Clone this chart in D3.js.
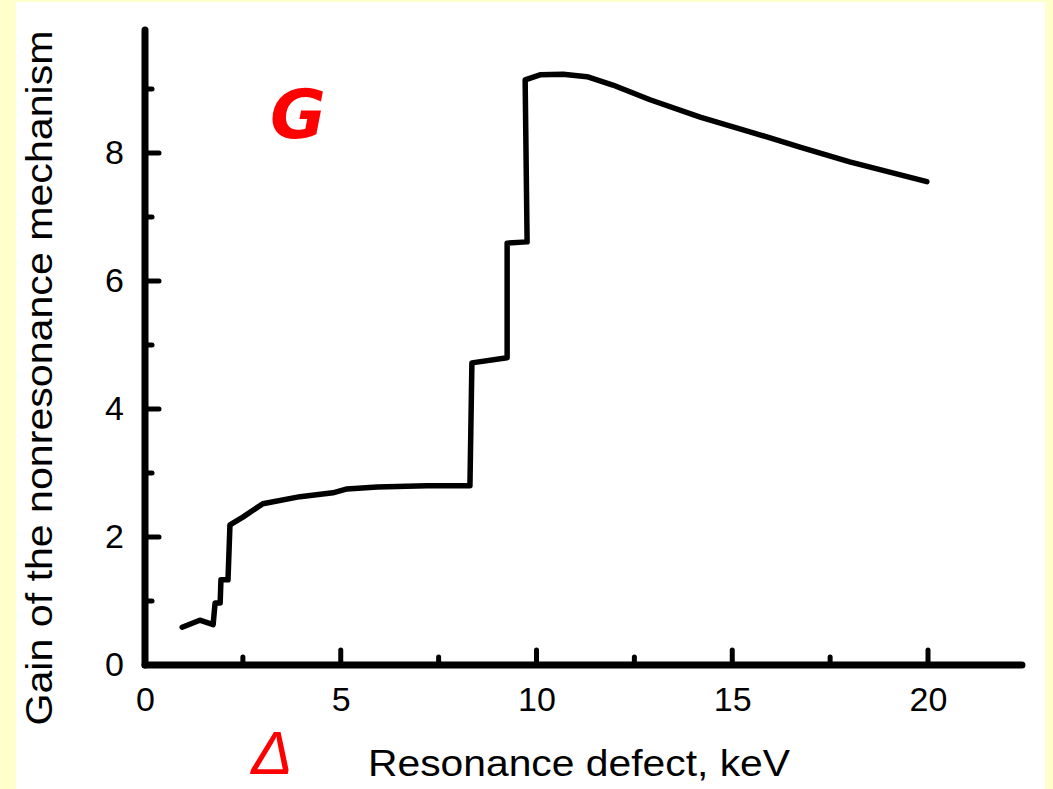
<!DOCTYPE html>
<html>
<head>
<meta charset="utf-8">
<script src="https://cdn.jsdelivr.net/npm/d3@7"></script>
<style>
  body { margin: 0; background: #ffffcc; }
  svg { display: block; }
</style>
</head>
<body>
<script>
// gain curve: defect (keV) vs gain
let defect = [0.95, 1.40, 1.74, 1.79, 1.92, 1.94, 2.12, 2.17, 2.50, 3.01, 3.96, 4.80, 5.16,
              5.93, 7.20, 8.30, 8.35, 9.25, 9.25, 9.76, 9.71, 10.09, 10.68, 11.29, 11.95,
              12.9, 14.18, 15.45, 16.73, 18.0, 19.97];
let gain = [0.59, 0.70, 0.63, 0.97, 0.97, 1.33, 1.33, 2.19, 2.31, 2.52, 2.63, 2.69, 2.75,
            2.78, 2.80, 2.80, 4.72, 4.80, 6.59, 6.61, 9.14, 9.22, 9.23, 9.19, 9.06,
            8.83, 8.56, 8.33, 8.09, 7.86, 7.55];
let xMajor = [0, 5, 10, 15, 20],
    xMinor = [2.5, 7.5, 12.5, 17.5];
let yMajor = [0, 2, 4, 6, 8],
    yMinor = [1, 3, 5, 7, 9];

let W = 1053, H = 789;
let margin = {top: 30, right: 30, bottom: 124, left: 145};
let font = "'Liberation Sans', Arial, sans-serif";

let svg = d3.select("body").append("svg")
    .attr("width", W)
    .attr("height", H);

// white panel on the yellow frame
svg.append("rect")
    .attr("x", 16).attr("y", 2)
    .attr("width", 1029).attr("height", H - 2)
    .attr("fill", "#fff");

let g = svg.append("g")
    .attr("transform", "translate(" + margin.left + "," + margin.top + ")");

let width = 928 - margin.left,   // 0..20 keV
    height = 665 - margin.top;   // 0..9.92

let x = d3.scaleLinear().domain([0, 20]).range([0, width]);
let y = d3.scaleLinear().domain([0, 9.92]).range([height, 0]);
let xEnd = x(22.4);

// axis lines
g.append("line")
    .attr("x1", 0).attr("x2", xEnd)
    .attr("y1", height).attr("y2", height)
    .attr("stroke", "#000").attr("stroke-width", 7).attr("stroke-linecap", "round");
g.append("line")
    .attr("x1", 0).attr("x2", 0)
    .attr("y1", 0).attr("y2", height)
    .attr("stroke", "#000").attr("stroke-width", 7).attr("stroke-linecap", "round");

// x tick labels
let xAxis = d3.axisBottom(x).tickValues(xMajor).tickSize(0).tickPadding(22).tickFormat(d3.format("d"));
let xg = g.append("g")
    .attr("transform", "translate(0," + height + ")")
    .call(xAxis);
xg.select(".domain").remove();
xg.selectAll("text")
    .style("font-family", font)
    .style("font-size", "34px")
    .attr("fill", "#000");

// x ticks pointing up
g.selectAll(".xmaj").data(xMajor.filter(d => d > 0)).enter().append("line")
    .attr("x1", d => x(d)).attr("x2", d => x(d))
    .attr("y1", height).attr("y2", height - 15)
    .attr("stroke", "#000").attr("stroke-width", 5).attr("stroke-linecap", "round");
g.selectAll(".xmin").data(xMinor).enter().append("line")
    .attr("x1", d => x(d)).attr("x2", d => x(d))
    .attr("y1", height).attr("y2", height - 8)
    .attr("stroke", "#000").attr("stroke-width", 5).attr("stroke-linecap", "round");

// y tick labels
let yAxis = d3.axisLeft(y).tickValues(yMajor).tickSize(0).tickPadding(21).tickFormat(d3.format("d"));
let yg = g.append("g")
    .call(yAxis);
yg.select(".domain").remove();
yg.selectAll("text")
    .style("font-family", font)
    .style("font-size", "34px")
    .attr("fill", "#000");

// y ticks pointing right
g.selectAll(".ymaj").data(yMajor.filter(d => d > 0)).enter().append("line")
    .attr("x1", 0).attr("x2", 14)
    .attr("y1", d => y(d)).attr("y2", d => y(d))
    .attr("stroke", "#000").attr("stroke-width", 5).attr("stroke-linecap", "round");
g.selectAll(".ymin").data(yMinor).enter().append("line")
    .attr("x1", 0).attr("x2", 7)
    .attr("y1", d => y(d)).attr("y2", d => y(d))
    .attr("stroke", "#000").attr("stroke-width", 5).attr("stroke-linecap", "round");

// the curve
let line = d3.line()
    .x(d => x(d[0]))
    .y(d => y(d[1]));
g.append("path")
    .datum(d3.zip(defect, gain))
    .attr("fill", "none")
    .attr("stroke", "#000")
    .attr("stroke-width", 5.5)
    .attr("stroke-linejoin", "round")
    .attr("stroke-linecap", "round")
    .attr("d", line);

// axis titles
svg.append("text")
    .attr("transform", "translate(52,378) rotate(-90)")
    .style("text-anchor", "middle")
    .style("font-family", font)
    .style("font-size", "37px")
    .attr("textLength", 695)
    .attr("lengthAdjust", "spacingAndGlyphs")
    .text("Gain of the nonresonance mechanism");

svg.append("text")
    .attr("x", 579).attr("y", 776)
    .style("text-anchor", "middle")
    .style("font-family", font)
    .style("font-size", "36px")
    .attr("textLength", 422)
    .attr("lengthAdjust", "spacingAndGlyphs")
    .text("Resonance defect, keV");

// red symbols
svg.append("text")
    .attr("x", 272).attr("y", 774)
    .style("text-anchor", "middle")
    .style("font-family", font)
    .style("font-style", "italic")
    .style("font-size", "62px")
    .attr("fill", "#ff0000")
    .text("Δ");

svg.append("text")
    .attr("x", 298).attr("y", 138)
    .style("text-anchor", "middle")
    .style("font-family", "'DejaVu Sans', sans-serif")
    .style("font-style", "italic")
    .style("font-weight", "bold")
    .style("font-size", "68px")
    .attr("fill", "#ff0000")
    .text("G");
</script>
</body>
</html>
